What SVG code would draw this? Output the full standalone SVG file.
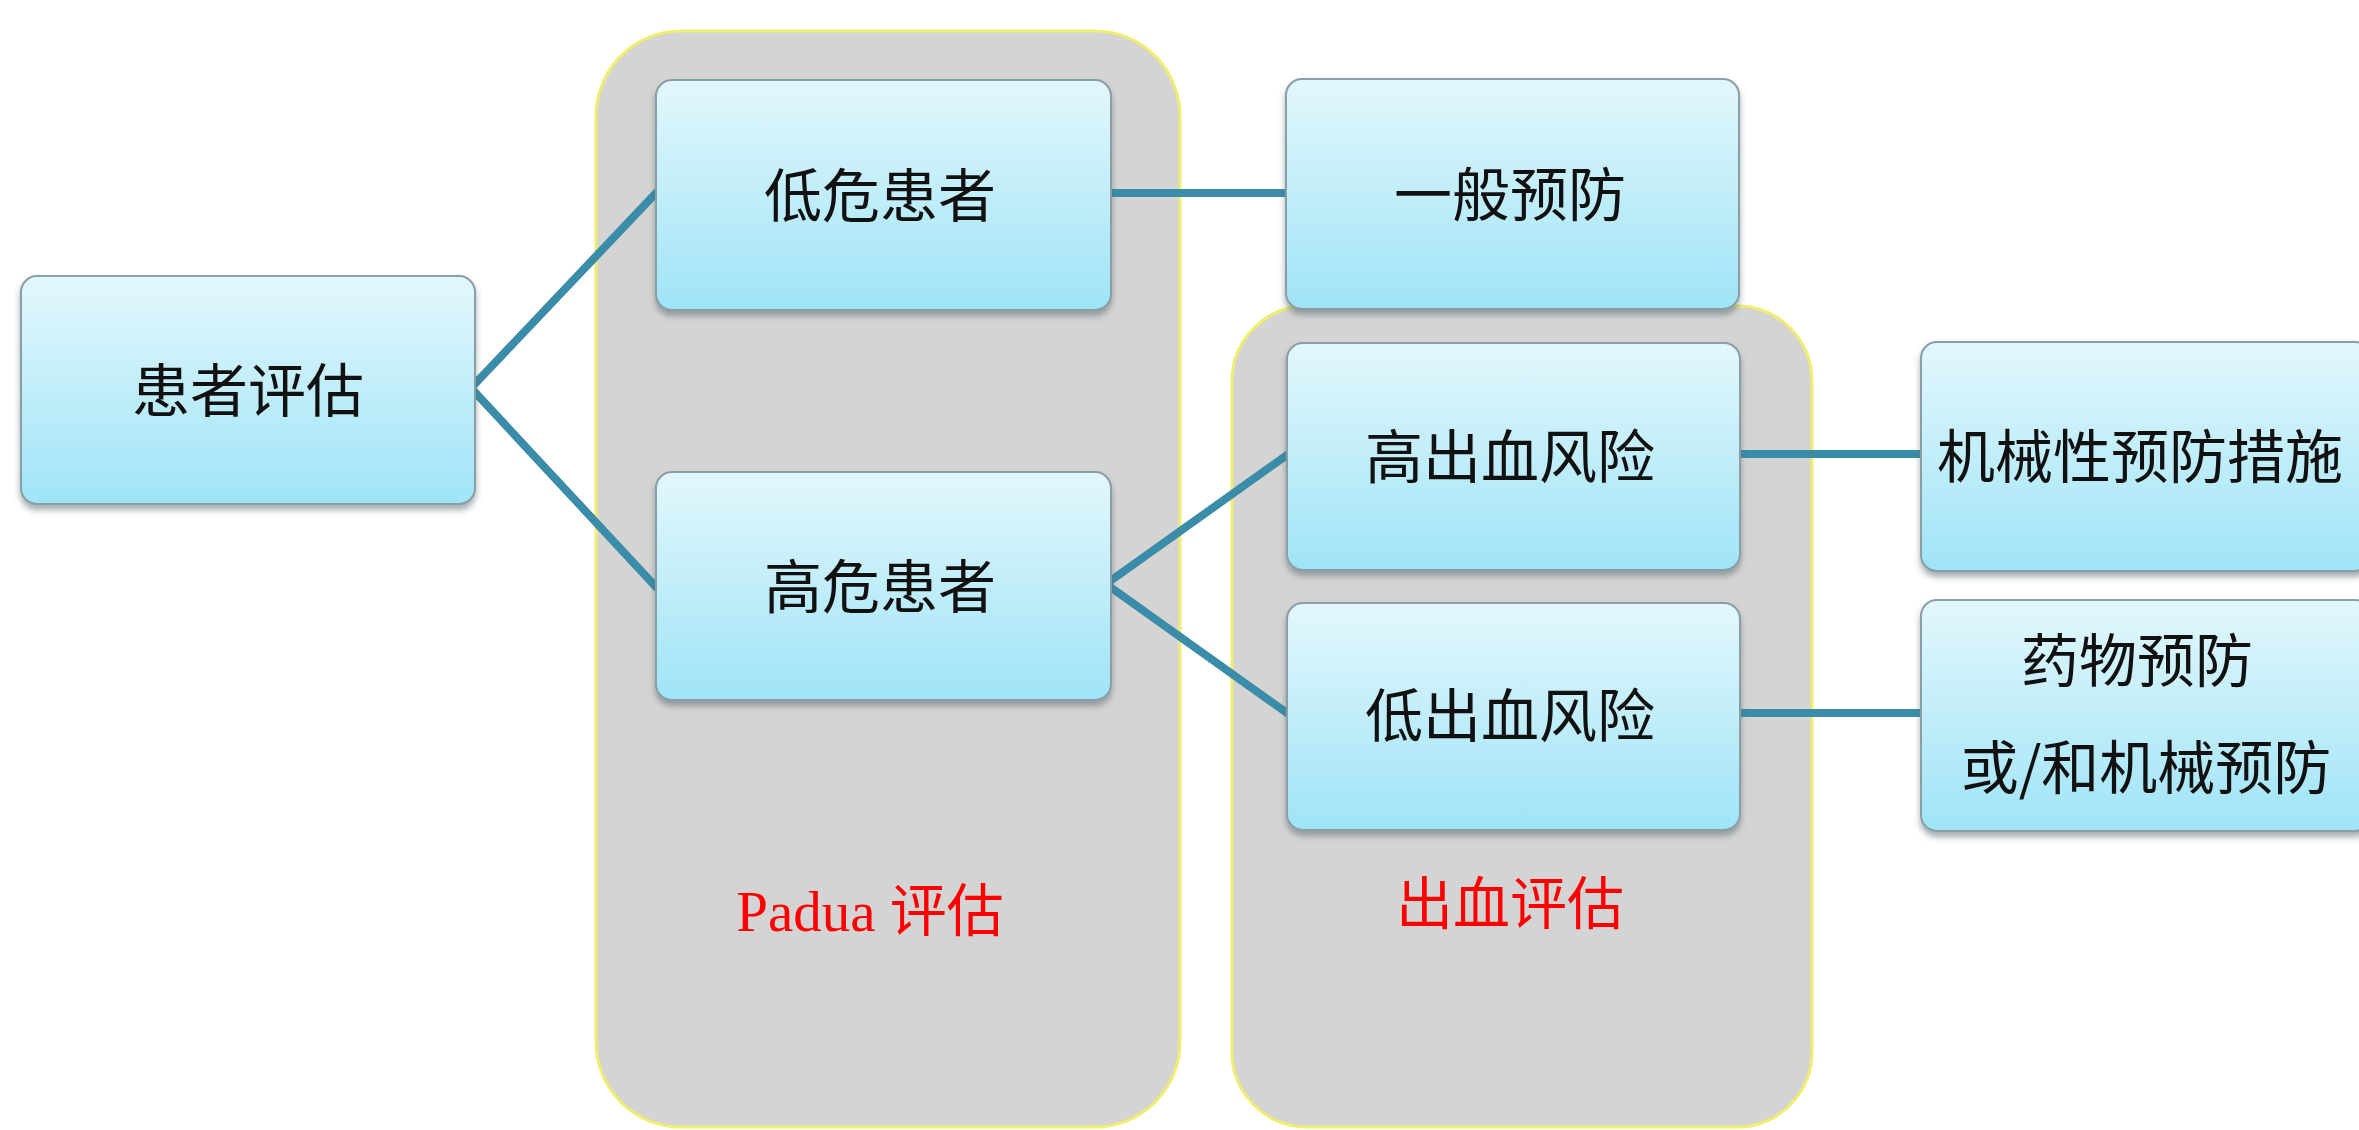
<svg xmlns="http://www.w3.org/2000/svg" width="2359" height="1130" viewBox="0 0 2359 1130">
<defs>
<linearGradient id="bg" x1="0" y1="0" x2="0" y2="1">
<stop offset="0" stop-color="#e3f7fc"/>
<stop offset="1" stop-color="#9fe4f7"/>
</linearGradient>
<filter id="sh" x="-10%" y="-10%" width="120%" height="130%">
<feDropShadow dx="0" dy="5" stdDeviation="3" flood-color="#5a6a70" flood-opacity="0.55"/>
</filter>
</defs>
<style>
.cont{fill:#d5d4d4;stroke:#eeee70;stroke-width:3}
.box{fill:url(#bg);stroke:#8a9ea6;stroke-width:2;filter:url(#sh)}
.t{font-family:"Noto Sans CJK SC","Liberation Serif",serif;font-size:58px;fill:#111;text-anchor:middle}
.r{font-family:"Liberation Serif","Noto Sans CJK SC",serif;font-size:57px;fill:#ff0000;text-anchor:middle}
.c{stroke:#3a8ca8;stroke-width:8;fill:none;stroke-linecap:round}
</style>
<rect width="2359" height="1130" fill="#ffffff"/>
<g id="padua-group">
<rect class="cont" x="596" y="31" width="584" height="1096" rx="85" ry="85"/>
<text class="r" x="870" y="931">Padua 评估</text>
</g>
<g id="bleed-group">
<rect class="cont" x="1232" y="306" width="580" height="821" rx="75" ry="75"/>
<text class="r" x="1510" y="924">出血评估</text>
</g>
<g id="connectors">
<polyline class="c" points="656,193 471,388 656,587"/>
<line class="c" x1="1108" y1="193" x2="1287" y2="193"/>
<polyline class="c" points="1287,455 1106,584 1287,713"/>
<line class="c" x1="1740" y1="454" x2="1921" y2="454"/>
<line class="c" x1="1740" y1="713" x2="1921" y2="713"/>
</g>
<g id="n-patient">
<rect class="box" x="21" y="276" width="454" height="228" rx="16"/>
<text class="t" x="248" y="412">患者评估</text>
</g>
<g id="n-low">
<rect class="box" x="656" y="80" width="455" height="230" rx="16"/>
<text class="t" x="880" y="217">低危患者</text>
</g>
<g id="n-high">
<rect class="box" x="656" y="472" width="455" height="228" rx="16"/>
<text class="t" x="880" y="608">高危患者</text>
</g>
<g id="n-general">
<rect class="box" x="1286" y="79" width="453" height="230" rx="16"/>
<text class="t" x="1510" y="216">一般预防</text>
</g>
<g id="n-highbleed">
<rect class="box" x="1287" y="343" width="453" height="227" rx="16"/>
<text class="t" x="1510" y="478">高出血风险</text>
</g>
<g id="n-lowbleed">
<rect class="box" x="1287" y="603" width="453" height="227" rx="16"/>
<text class="t" x="1510" y="737">低出血风险</text>
</g>
<g id="n-mech">
<rect class="box" x="1921" y="342" width="450" height="229" rx="16"/>
<text class="t" x="2140" y="478">机械性预防措施</text>
</g>
<g id="n-drug">
<rect class="box" x="1921" y="600" width="450" height="231" rx="16"/>
<text class="t" x="2137" y="682">药物预防</text>
<text class="t" x="2146" y="789">或/和机械预防</text>
</g>
</svg>
